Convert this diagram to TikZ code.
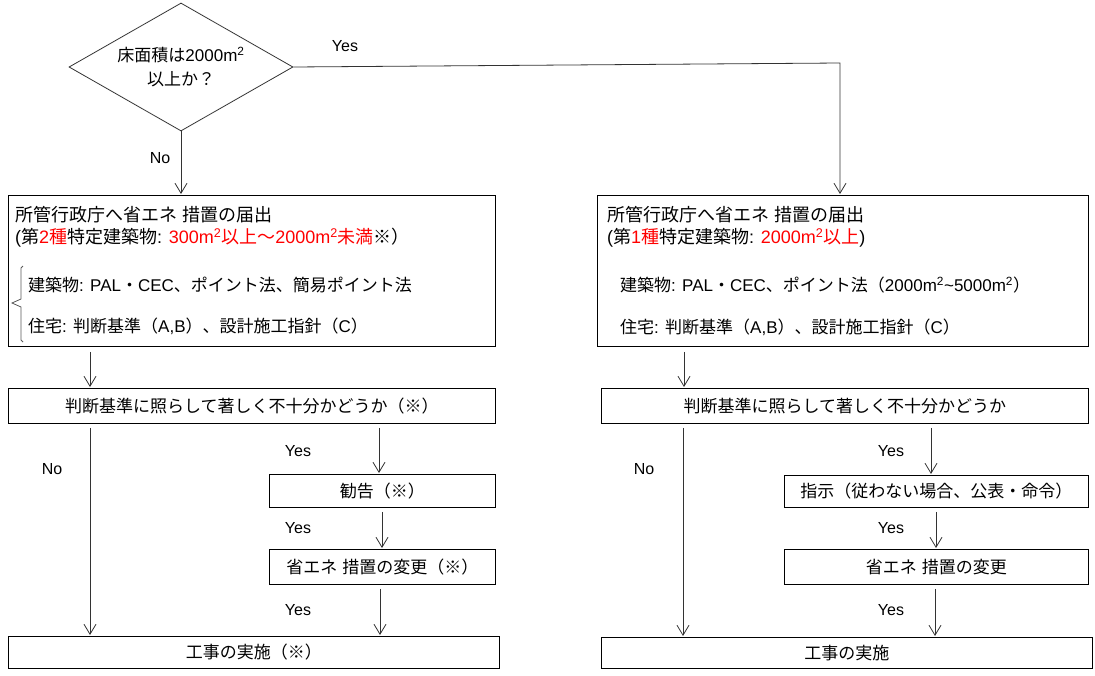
\documentclass[tikz,border=0pt]{standalone}
\usepackage{fontspec}
\setmainfont{Noto Sans CJK JP}
\newfontfamily\lat{Liberation Sans}
\usetikzlibrary{arrows.meta,shapes.geometric}
\newcommand\la[1]{{\lat #1}}
\newcommand\gp{\hspace{5pt}}
\newcommand\msq{{\lat m\textsuperscript{2}}}
\begin{document}
\begin{tikzpicture}[x=1pt,y=-1pt,
  box/.style={draw=black, line width=0.9pt, rectangle, inner sep=0pt, anchor=north west},
  conn/.style={draw=black!80, line width=0.8pt, -{Straight Barb[length=10pt,width=12pt]}, shorten >=1pt},
  lbl/.style={font=\lat\fontsize{16}{19}\selectfont, inner sep=0pt},
  txt/.style={font=\fontsize{17}{20}\selectfont, inner sep=0pt, anchor=west},
  htxt/.style={font=\fontsize{18}{21}\selectfont, inner sep=0pt, anchor=west},
  ctxt/.style={font=\fontsize{17}{20}\selectfont, inner sep=0pt}]
\useasboundingbox (0,0) rectangle (1095,675);
% decision
\node[draw=black!80, line width=0.8pt, shape=diamond, aspect=1.75, inner sep=0pt,
      minimum width=224pt, minimum height=128pt, align=center,
      font=\fontsize{17}{24}\selectfont] (D) at (181,67) {床面積は\la{2000}\msq\\以上か？};
% boxes
\node[box, minimum width=487pt, minimum height=151pt] (B1L) at (8,195) {};
\node[box, minimum width=491pt, minimum height=151pt] (B1R) at (597,195) {};
\node[box, minimum width=487pt, minimum height=35pt] (JL) at (8,388) {};
\node[box, minimum width=487pt, minimum height=35pt] (JR) at (601,388) {};
\node[box, minimum width=226pt, minimum height=33pt] (KL) at (269,474) {};
\node[box, minimum width=226pt, minimum height=35pt] (HL) at (269,549) {};
\node[box, minimum width=491pt, minimum height=32pt] (WL) at (8,636) {};
\node[box, minimum width=304pt, minimum height=32pt] (SR) at (784,475) {};
\node[box, minimum width=304pt, minimum height=35pt] (HR) at (784,549) {};
\node[box, minimum width=491pt, minimum height=31pt] (WR) at (601,637) {};
% box texts
\node[ctxt] (tJL) at (JL.center) {判断基準に照らして著しく不十分かどうか（※）};
\node[ctxt] (tJR) at (JR.center) {判断基準に照らして著しく不十分かどうか};
\node[ctxt] (tKL) at (KL.center) {勧告（※）};
\node[ctxt] (tHL) at (HL.center) {省エネ\gp 措置の変更（※）};
\node[ctxt] (tWL) at (WL.center) {工事の実施（※）};
\node[ctxt] (tSR) at (SR.center) {指示（従わない場合、公表・命令）};
\node[ctxt] (tHR) at (HR.center) {省エネ\gp 措置の変更};
\node[ctxt] (tWR) at (WR.center) {工事の実施};
% upper left box text
\node[htxt] (l1) at (15,215) {所管行政庁へ省エネ\gp 措置の届出};
\node[htxt] (l2) at (15,238) {\la{(}第\textcolor{red}{\la{2}種}特定建築物\la{: }\textcolor{red}{\la{300}\msq 以上～\la{2000}\msq 未満}※）};
\node[txt] (l3) at (28,285) {建築物\la{: PAL}・\la{CEC}、ポイント法、簡易ポイント法};
\node[txt] (l4) at (28,326) {住宅\la{: }判断基準（\la{A,B}）、設計施工指針（\la{C}）};
\draw[black!65, line width=0.8pt] (23,266) -- (21,268) -- (21,299) -- (12,303) -- (21,307) -- (21,340) -- (23,342);
% upper right box text
\node[htxt] (r1) at (607,215) {所管行政庁へ省エネ\gp 措置の届出};
\node[htxt] (r2) at (607,238) {\la{(}第\textcolor{red}{\la{1}種}特定建築物\la{: }\textcolor{red}{\la{2000}\msq 以上}\la{)}};
\node[txt] (r3) at (620,285) {建築物\la{: PAL}・\la{CEC}、ポイント法（\la{2000}\msq\la{\textasciitilde 5000}\msq）};
\node[txt] (r4) at (620,327) {住宅\la{: }判断基準（\la{A,B}）、設計施工指針（\la{C}）};
% coordinates
\coordinate (c1) at (840,63);
\coordinate (xL) at (90,0);
\coordinate (xY1) at (379,0);
\coordinate (xY2) at (382,0);
\coordinate (xY3) at (380,0);
\coordinate (xR) at (684,0);
\coordinate (xR2) at (683,0);
\coordinate (xZ1) at (931,0);
\coordinate (xZ2) at (936,0);
\coordinate (xZ3) at (935,0);
% connectors
\draw[conn] (D.south) -- (D.south |- B1L.north);
\draw[conn] (D.east) -- (c1) -- (c1 |- B1R.north);
\draw[conn, shorten <=5pt] (B1L.south -| xL) -- (JL.north -| xL);
\draw[conn, shorten <=4pt] (JL.south -| xL) -- (WL.north -| xL);
\draw[conn, shorten <=4pt] (JL.south -| xY1) -- (KL.north -| xY1);
\draw[conn, shorten <=4pt] (KL.south -| xY2) -- (HL.north -| xY2);
\draw[conn, shorten <=4pt] (HL.south -| xY3) -- (WL.north -| xY3);
\draw[conn, shorten <=5pt] (B1R.south -| xR) -- (JR.north -| xR);
\draw[conn, shorten <=4pt] (JR.south -| xR2) -- (WR.north -| xR2);
\draw[conn, shorten <=4pt] (JR.south -| xZ1) -- (SR.north -| xZ1);
\draw[conn, shorten <=4pt] (SR.south -| xZ2) -- (HR.north -| xZ2);
\draw[conn, shorten <=4pt] (HR.south -| xZ3) -- (WR.north -| xZ3);
% labels
\node[lbl] (yes0) at (345,46) {Yes};
\node[lbl] (no0) at (160,158) {No};
\node[lbl] (noL) at (52,469) {No};
\node[lbl] (yL1) at (298,451) {Yes};
\node[lbl] (yL2) at (298,528) {Yes};
\node[lbl] (yL3) at (298,610) {Yes};
\node[lbl] (noR) at (644,469) {No};
\node[lbl] (yR1) at (891,451) {Yes};
\node[lbl] (yR2) at (891,528) {Yes};
\node[lbl] (yR3) at (891,610) {Yes};
\end{tikzpicture}
\end{document}
